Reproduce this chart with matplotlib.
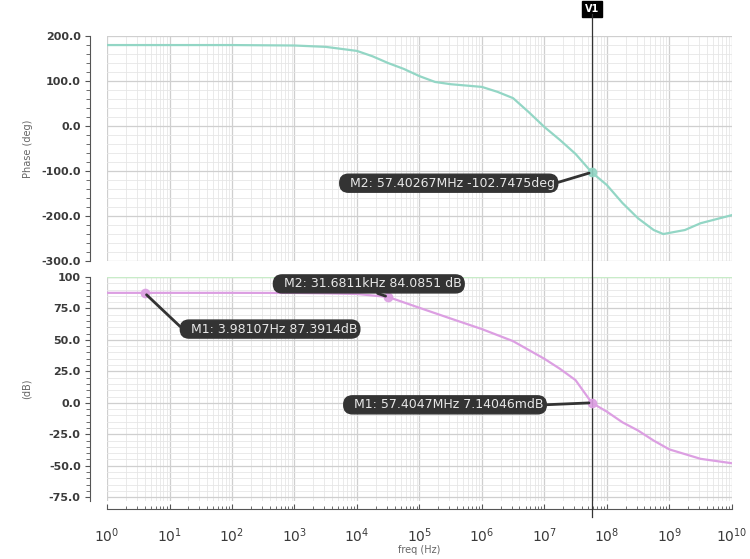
import numpy as np
import matplotlib.pyplot as plt
from matplotlib.ticker import LogLocator, MultipleLocator, FixedLocator, NullFormatter

# datos (frecuencia en Hz)
freq_fase = [1e0, 1e1, 1e2, 1e3, 3.16e3, 1e4, 1.78e4, 3.16e4, 5.62e4, 1e5, 1.78e5, 3.16e5,
             1e6, 1.78e6, 3.16e6, 5.62e6, 1e7, 1.78e7, 3.16e7, 5.74e7, 1e8, 1.78e8,
             3.16e8, 5.62e8, 8e8, 1.78e9, 3.16e9, 1e10]
fase = [180, 180, 180, 179, 176, 167, 155, 140, 127, 111, 98, 93,
        87, 76, 62, 31, -2, -31, -62, -103, -131, -171,
        -205, -231, -240, -231, -216, -198]

freq_gan = [1e0, 3.98e0, 1e1, 1e2, 1e3, 3.16e3, 1e4, 3.17e4, 1e5, 3.16e5, 1e6, 3.16e6,
            1e7, 1.78e7, 3.16e7, 5.74e7, 1e8, 1.78e8, 3.16e8, 5.62e8, 1e9, 3.16e9, 1e10]
ganancia = [87.4, 87.4, 87.4, 87.4, 87.3, 87.0, 86.5, 84.1, 75.5, 67, 58.6, 49,
            35, 27, 18, 0, -7, -15.5, -22, -30, -37, -44.5, -48]

# marcadores (freq, valor, texto)
marcas_fase = [(5.74e7, -102.7475, "M2: 57.40267MHz -102.7475deg")]
marcas_gan = [(3.98107, 87.3914, "M1: 3.98107Hz 87.3914dB"),
              (3.16811e4, 84.0851, "M2: 31.6811kHz 84.0851 dB"),
              (5.74047e7, 0.00714, "M1: 57.4047MHz 7.14046mdB")]
pos_texto_fase = [(10**5.47, -127)]
pos_texto_gan = [(10**2.61, 58.6), (10**4.19, 94.5), (10**5.41, -1.6)]
anclas_fase = [(1, 0.5)]
anclas_gan = [(0, 0.5), (0.5, 0), (1, 0.5)]

color_fase = '#93d6c5'
color_gan = '#dc9fe2'
gris = '#555555'
caja = '#333333'
v1 = 5.74e7

fig = plt.figure(figsize=(7.5, 5.59), dpi=100)
ax1 = fig.add_axes([0.1427, 0.533, 0.833, 0.4025])
ax2 = fig.add_axes([0.1427, 0.1038, 0.833, 0.4007])


def estilo(ax):
    ax.set_xscale('log')
    ax.set_xlim(1, 1e10)
    ax.xaxis.set_major_locator(LogLocator(base=10, numticks=12))
    ax.xaxis.set_minor_locator(LogLocator(base=10, subs=np.arange(2, 10), numticks=12))
    ax.xaxis.set_minor_formatter(NullFormatter())
    ax.grid(which='major', color='#cfcfcf', linewidth=0.9)
    ax.grid(which='minor', color='#e6e6e6', linewidth=0.6)
    for s in ['top', 'right']:
        ax.spines[s].set_visible(False)
    ax.spines['left'].set_position(('outward', 12))
    ax.spines['left'].set_color(gris)
    ax.spines['bottom'].set_color(gris)
    ax.tick_params(axis='y', which='both', direction='out', colors=gris, labelsize=8,
                   labelcolor='#3a3a3a')
    ax.tick_params(axis='y', which='minor', length=3)
    ax.tick_params(axis='x', which='both', direction='in', colors=gris, labelsize=10,
                   labelcolor='#3a3a3a', pad=12)
    ax.set_axisbelow(True)


estilo(ax1)
estilo(ax2)

# fase
ax1.plot(freq_fase, fase, color=color_fase, linewidth=1.6)
ax1.set_ylim(-300, 200)
ax1.yaxis.set_major_locator(MultipleLocator(100))
ax1.yaxis.set_minor_locator(MultipleLocator(20))
ax1.set_yticklabels([f"{v:.1f}" for v in ax1.get_yticks()], fontweight='bold')
ax1.spines['bottom'].set_visible(False)
ax1.tick_params(axis='x', which='both', bottom=False, labelbottom=False)
ax1.set_ylabel('Phase (deg)', fontsize=7, color='#666666', labelpad=6)

# ganancia
ax2.plot(freq_gan, ganancia, color=color_gan, linewidth=1.6)
ax2.set_ylim(-78, 100)
ticks_gan = [-75, -50, -25, 0, 25, 50, 75, 100]
ax2.yaxis.set_major_locator(FixedLocator(ticks_gan))
ax2.yaxis.set_minor_locator(MultipleLocator(5))
ax2.set_yticklabels([f"{v:.1f}" if v != 100 else "100" for v in ticks_gan], fontweight='bold')
ax2.spines['bottom'].set_position(('outward', 6))
ax2.set_ylabel('(dB)', fontsize=7, color='#666666', labelpad=12)
ax2.set_xlabel('freq (Hz)', fontsize=7, color='#666666', labelpad=0)
ax2.axhline(100, color='#c8ecc8', linewidth=1)


def marcar(ax, marcas, posiciones, anclas, color):
    for (f, v, txt), (tx, ty), rp in zip(marcas, posiciones, anclas):
        ax.plot([f], [v], 'o', color=color, markersize=6, alpha=0.9, zorder=5)
        ax.annotate('  ' + txt, xy=(f, v), xytext=(tx, ty), ha='center', va='center',
                    fontsize=9, color='#e8e8e8', zorder=6,
                    bbox=dict(boxstyle='round,pad=0.2,rounding_size=0.7', fc=caja, ec=caja),
                    arrowprops=dict(arrowstyle='-', color=caja, linewidth=2, shrinkA=0,
                                    shrinkB=2, relpos=rp))


marcar(ax1, marcas_fase, pos_texto_fase, anclas_fase, color_fase)
marcar(ax2, marcas_gan, pos_texto_gan, anclas_gan, color_gan)

# cursor vertical V1
ax1.axvline(v1, ymin=-0.08, ymax=1.1, color='#333333', linewidth=0.9, clip_on=False, zorder=4)
ax2.axvline(v1, ymin=-0.07, ymax=1.0, color='#333333', linewidth=0.9, clip_on=False, zorder=4)
ax1.text(v1, 1.12, 'V1', transform=ax1.get_xaxis_transform(), ha='center', va='center',
         fontsize=7, color='white', fontweight='bold',
         bbox=dict(boxstyle='square,pad=0.3', fc='black', ec='black'))

plt.savefig('out.png', dpi=100)
